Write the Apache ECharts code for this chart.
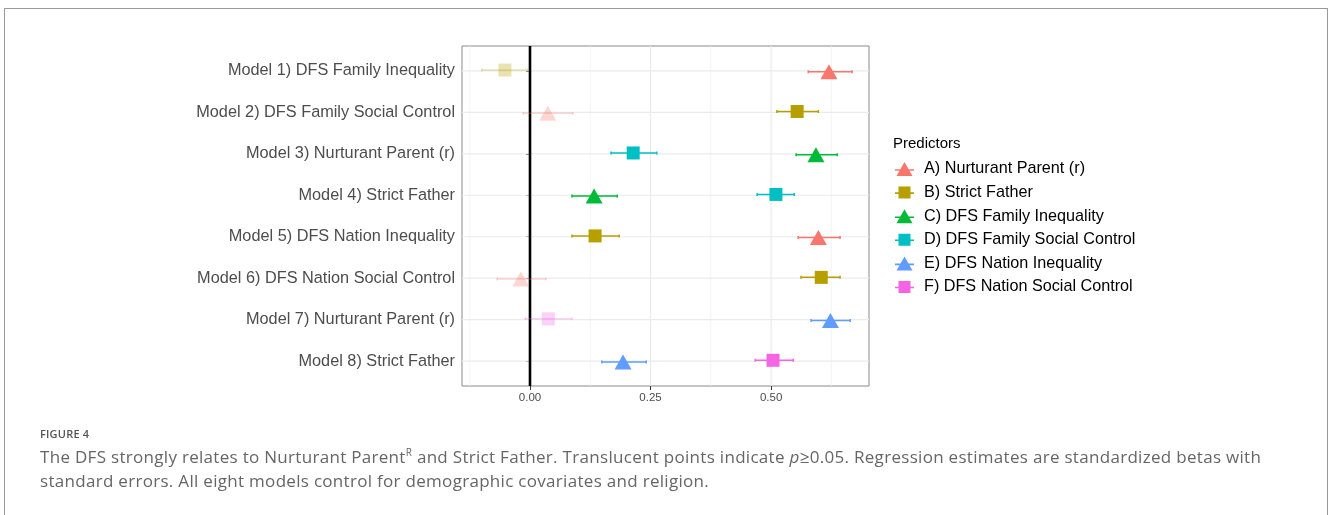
<!DOCTYPE html>
<html>
<head>
<meta charset="utf-8">
<script src="https://cdn.jsdelivr.net/npm/echarts@6/dist/echarts.min.js"></script>
<style>
  body { margin: 0; background: #fff; }
  #wrap { position: relative; width: 1328px; height: 515px; overflow: hidden; }
  #chart { position: absolute; left: 0; top: 0; width: 1328px; height: 515px; }
  #frame { position: absolute; left: 4px; top: 8px; width: 1324px; height: 540px; border: 1px solid #9a9a9a; box-sizing: border-box; }
  #caption { position: absolute; left: 40px; top: 426px; width: 1250px; font-family: 'Open Sans', sans-serif; color: #666; }
  #caption .fig { font-size: 11px; font-weight: 600; color: #555; letter-spacing: 0.2px; line-height: 16px; }
  #caption .txt { font-size: 17px; line-height: 24px; letter-spacing: 0.3px; margin-top: 3px; }
  #caption sup { font-size: 10px; line-height: 0; }
</style>
</head>
<body>
<div id="wrap">
  <div id="frame"></div>
  <div id="chart"></div>
  <div id="caption">
    <div class="fig">FIGURE 4</div>
    <div class="txt">The DFS strongly relates to Nurturant Parent<sup>R</sup> and Strict Father. Translucent points indicate <i>p</i>≥0.05. Regression estimates are standardized betas with standard errors. All eight models control for demographic covariates and religion.</div>
  </div>
</div>
<script>
const models = [
  'Model 1) DFS Family Inequality',
  'Model 2) DFS Family Social Control',
  'Model 3) Nurturant Parent (r)',
  'Model 4) Strict Father',
  'Model 5) DFS Nation Inequality',
  'Model 6) DFS Nation Social Control',
  'Model 7) Nurturant Parent (r)',
  'Model 8) Strict Father'
]
const predictors = [
  'A) Nurturant Parent (r)',
  'B) Strict Father',
  'C) DFS Family Inequality',
  'D) DFS Family Social Control',
  'E) DFS Nation Inequality',
  'F) DFS Nation Social Control'
]
const predictorColors = ['#F8766D', '#B79F00', '#00BA38', '#00BFC4', '#619CFF', '#F564E3']
const xTicks = [0, 0.25, 0.5]
const xMinorGrid = [-0.125, 0.125, 0.375, 0.625]

// triangle-shaped predictors (A, C, E), one per model
const triPredictor = [0, 0, 2, 2, 0, 0, 4, 4]
const triEst = [0.620, 0.037, 0.593, 0.133, 0.598, -0.019, 0.623, 0.193]
const triLow = [0.577, -0.014, 0.552, 0.087, 0.556, -0.068, 0.583, 0.149]
const triHigh = [0.668, 0.089, 0.637, 0.181, 0.643, 0.033, 0.664, 0.241]
const triSig = [true, false, true, true, true, false, true, true]

// square-shaped predictors (B, D, F), one per model
const sqPredictor = [1, 1, 3, 3, 1, 1, 5, 5]
const sqEst = [-0.052, 0.554, 0.214, 0.510, 0.135, 0.604, 0.038, 0.504]
const sqLow = [-0.100, 0.512, 0.168, 0.471, 0.087, 0.562, -0.010, 0.467]
const sqHigh = [-0.004, 0.598, 0.263, 0.548, 0.185, 0.643, 0.087, 0.546]
const sqSig = [false, true, true, true, true, true, false, true]

const dodge = 0.02
const fadeOpacity = 0.3
const textFont = 'Liberation Sans, Arial, sans-serif'

const triIcon = 'path://M0,7.2H19V8.8H0Z M9.5,0L17.5,14H1.5Z'
const sqIcon = 'path://M0,7.2H19V8.8H0Z M3.5,1.5H15.5V13.5H3.5Z'

const errorBarRender = (color) => (params, api) => {
  const y = api.value(2)
  const a = api.coord([api.value(0), y])
  const b = api.coord([api.value(1), y])
  const op = api.value(3)
  const st = { stroke: color, lineWidth: 1.5, opacity: op }
  return {
    type: 'group',
    children: [
      { type: 'line', shape: { x1: a[0], y1: a[1], x2: b[0], y2: b[1] }, style: st },
      { type: 'line', shape: { x1: a[0], y1: a[1] - 1.5, x2: a[0], y2: a[1] + 1.5 }, style: st },
      { type: 'line', shape: { x1: b[0], y1: b[1] - 1.5, x2: b[0], y2: b[1] + 1.5 }, style: st }
    ]
  }
}

const gridRender = (params, api) => {
  const cs = params.coordSys
  const v = api.value(0)
  const kind = api.value(1)
  if (kind === 2) {
    // horizontal grid line at a model row
    const p = api.coord([0, v])
    return { type: 'line', shape: { x1: cs.x, y1: p[1], x2: cs.x + cs.width, y2: p[1] }, style: { stroke: '#ebebeb', lineWidth: 1.2 } }
  }
  const p = api.coord([v, 1])
  const style = kind === 3
    ? { stroke: '#000', lineWidth: 2.6 }
    : kind === 1
      ? { stroke: '#ebebeb', lineWidth: 1.2 }
      : { stroke: '#f3f3f3', lineWidth: 0.8 }
  return { type: 'line', shape: { x1: p[0], y1: cs.y, x2: p[0], y2: cs.y + cs.height }, style }
}

const gridData = []
xMinorGrid.forEach(v => gridData.push([v, 0]))
xTicks.forEach(v => gridData.push([v, 1]))
models.forEach((m, i) => gridData.push([i + 1, 2]))
gridData.push([0, 3])

const series = [{
  type: 'custom',
  renderItem: gridRender,
  data: gridData,
  encode: { x: 0 },
  silent: true,
  z: 1
}]

predictors.forEach((name, p) => {
  const color = predictorColors[p]
  const isTri = p % 2 === 0
  const pred = isTri ? triPredictor : sqPredictor
  const est = isTri ? triEst : sqEst
  const low = isTri ? triLow : sqLow
  const high = isTri ? triHigh : sqHigh
  const sig = isTri ? triSig : sqSig
  const off = isTri ? dodge : -dodge
  const bars = []
  const pts = []
  pred.forEach((q, i) => {
    if (q !== p) return
    const op = sig[i] ? 1 : fadeOpacity
    bars.push([low[i], high[i], i + 1 + off, op])
    pts.push({ value: [est[i], i + 1 + off], itemStyle: { opacity: op } })
  })
  series.push({
    name,
    type: 'custom',
    renderItem: errorBarRender(color),
    data: bars,
    encode: { x: [0, 1], y: 2 },
    itemStyle: { color },
    z: 3
  })
  series.push({
    name,
    type: 'scatter',
    symbol: isTri ? 'triangle' : 'rect',
    symbolSize: isTri ? [17, 15] : [13, 13],
    itemStyle: { color },
    data: pts,
    z: 4
  })
})

const chart = echarts.init(document.getElementById('chart'))
chart.setOption({
  animation: false,
  grid: {
    left: 462, right: 459, top: 46, bottom: 129,
    show: true, borderColor: '#8a8a8a', borderWidth: 1, backgroundColor: 'transparent'
  },
  xAxis: {
    type: 'value',
    min: -0.141,
    max: 0.703,
    splitLine: { show: false },
    axisLine: { show: false },
    axisTick: { show: true, customValues: xTicks, length: 4, lineStyle: { color: '#333' } },
    axisLabel: {
      customValues: xTicks,
      formatter: v => v.toFixed(2),
      color: '#4d4d4d', fontSize: 11.5, fontFamily: textFont, margin: 6
    }
  },
  yAxis: {
    type: 'value',
    min: 0.4,
    max: 8.6,
    inverse: true,
    splitLine: { show: false },
    axisLine: { show: false },
    axisTick: { show: true, customValues: [1, 2, 3, 4, 5, 6, 7, 8], length: 4, lineStyle: { color: '#333' } },
    axisLabel: {
      customValues: [1, 2, 3, 4, 5, 6, 7, 8],
      formatter: v => models[Math.round(v) - 1],
      color: '#4d4d4d', fontSize: 16.3, fontFamily: textFont, margin: 7,
      padding: [5, 0, 0, 0]
    }
  },
  legend: {
    orient: 'vertical',
    left: 890,
    top: 156,
    itemWidth: 19,
    itemHeight: 14,
    itemGap: 7.6,
    selectedMode: false,
    textStyle: { fontSize: 16.2, color: '#000', fontFamily: textFont, padding: [0, 0, 0, 5] },
    data: predictors.map((name, p) => ({
      name,
      icon: p % 2 === 0 ? triIcon : sqIcon,
      itemStyle: { color: predictorColors[p] }
    }))
  },
  graphic: [{
    type: 'text',
    left: 893,
    top: 136,
    style: { text: 'Predictors', fontSize: 15, fill: '#000', fontFamily: textFont }
  }],
  series
})
</script>
</body>
</html>
